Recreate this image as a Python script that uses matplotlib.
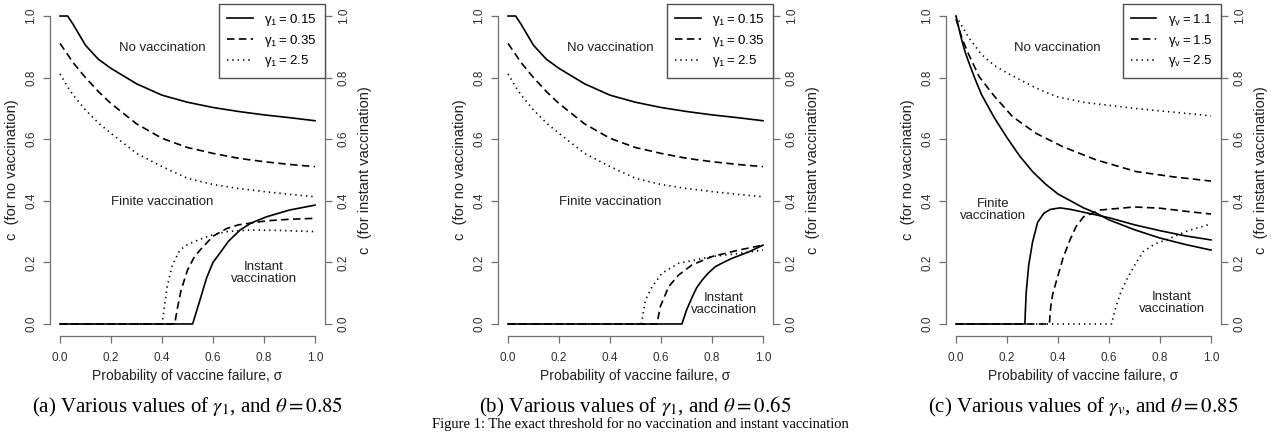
import matplotlib
matplotlib.use("Agg")
import matplotlib.pyplot as plt

plt.rcParams['font.family'] = ['Liberation Sans', 'DejaVu Sans']
plt.rcParams['mathtext.fontset'] = 'custom'
plt.rcParams['mathtext.rm'] = 'Liberation Sans'
plt.rcParams['mathtext.it'] = 'Liberation Sans:italic'

# ---- panels (a) and (b): no-vaccination threshold (does not depend on theta)
nv_sig = [0.0, 0.03, 0.05, 0.1, 0.15, 0.2, 0.3, 0.4, 0.5, 0.6, 0.7, 0.8, 0.9, 1.0]
nv_g015 = [1.0, 1.0, 0.975, 0.905, 0.86, 0.83, 0.78, 0.743, 0.72, 0.703, 0.69, 0.679, 0.67, 0.66]
nv_g035 = [0.911, 0.875, 0.85, 0.80, 0.755, 0.716, 0.65, 0.603, 0.573, 0.554, 0.538, 0.527, 0.518, 0.511]
nv_g25 = [0.812, 0.77, 0.745, 0.695, 0.653, 0.619, 0.554, 0.511, 0.473, 0.453, 0.44, 0.43, 0.421, 0.413]

# ---- panel (a): instant vaccination, theta = 0.85
ia_g015_x = [0, 0.52, 0.535, 0.549, 0.575, 0.6, 0.627, 0.66, 0.706, 0.75, 0.81, 0.9, 1.0]
ia_g015_y = [0, 0, 0.04, 0.078, 0.15, 0.2, 0.23, 0.268, 0.305, 0.328, 0.348, 0.37, 0.386]
ia_g035_x = [0, 0.45, 0.46, 0.475, 0.5, 0.525, 0.549, 0.6, 0.654, 0.7, 0.81, 0.9, 1.0]
ia_g035_y = [0, 0, 0.05, 0.11, 0.175, 0.215, 0.24, 0.285, 0.31, 0.322, 0.335, 0.34, 0.343]
ia_g25_x = [0, 0.40, 0.41, 0.42, 0.44, 0.47, 0.5, 0.549, 0.6, 0.654, 0.745, 0.85, 1.0]
ia_g25_y = [0, 0, 0.06, 0.12, 0.19, 0.24, 0.258, 0.275, 0.29, 0.30, 0.305, 0.304, 0.30]

# ---- panel (b): instant vaccination, theta = 0.65
ib_g015_x = [0, 0.682, 0.70, 0.722, 0.74, 0.761, 0.785, 0.813, 0.845, 0.878, 0.944, 1.0]
ib_g015_y = [0, 0, 0.045, 0.087, 0.118, 0.142, 0.165, 0.186, 0.20, 0.213, 0.234, 0.256]
ib_g035_x = [0, 0.584, 0.597, 0.63, 0.669, 0.722, 0.8, 0.905, 1.0]
ib_g035_y = [0, 0, 0.056, 0.121, 0.159, 0.192, 0.219, 0.24, 0.256]
ib_g25_x = [0, 0.523, 0.539, 0.565, 0.604, 0.669, 0.8, 0.905, 1.0]
ib_g25_y = [0, 0, 0.078, 0.121, 0.165, 0.197, 0.219, 0.229, 0.24]

# ---- panel (c): various gamma_v, theta = 0.85
nc_g11_x = [0, 0.01, 0.02, 0.035, 0.05, 0.075, 0.1, 0.15, 0.2, 0.25, 0.3, 0.35, 0.4, 0.5, 0.55, 0.6, 0.7, 0.8, 0.9, 1.0]
nc_g11_y = [1.0, 0.965, 0.93, 0.885, 0.85, 0.795, 0.745, 0.67, 0.605, 0.545, 0.495, 0.455, 0.422, 0.377, 0.36, 0.338, 0.306, 0.279, 0.258, 0.24]
nc_g15_x = [0, 0.026, 0.05, 0.091, 0.15, 0.222, 0.314, 0.418, 0.549, 0.706, 0.85, 1.0]
nc_g15_y = [0.99, 0.922, 0.875, 0.803, 0.74, 0.673, 0.619, 0.576, 0.533, 0.495, 0.478, 0.464]
nc_g25_x = [0, 0.05, 0.1, 0.15, 0.2, 0.3, 0.35, 0.4, 0.5, 0.6, 0.7, 0.8, 0.9, 1.0]
nc_g25_y = [1.0, 0.93, 0.875, 0.84, 0.815, 0.772, 0.753, 0.737, 0.72, 0.71, 0.70, 0.692, 0.684, 0.676]

ic_g11_x = [0, 0.27, 0.275, 0.285, 0.30, 0.32, 0.345, 0.37, 0.408, 0.45, 0.5, 0.6, 0.7, 0.8, 0.9, 1.0]
ic_g11_y = [0, 0, 0.10, 0.19, 0.265, 0.33, 0.36, 0.372, 0.377, 0.372, 0.363, 0.345, 0.322, 0.303, 0.286, 0.273]
ic_g15_x = [0, 0.366, 0.372, 0.38, 0.395, 0.42, 0.447, 0.47, 0.5, 0.565, 0.7, 0.8, 0.9, 1.0]
ic_g15_y = [0, 0, 0.06, 0.10, 0.143, 0.215, 0.273, 0.315, 0.348, 0.37, 0.38, 0.376, 0.366, 0.357]
ic_g25_x = [0, 0.61, 0.625, 0.645, 0.67, 0.70, 0.734, 0.78, 0.83, 0.9, 1.0]
ic_g25_y = [0, 0, 0.05, 0.10, 0.145, 0.19, 0.235, 0.26, 0.275, 0.30, 0.325]

legend_a = ['γ$_\\mathregular{1}$\u2009=\u20090.15', 'γ$_\\mathregular{1}$\u2009=\u20090.35', 'γ$_\\mathregular{1}$\u2009=\u20092.5']
legend_c = ['γ$_\\mathregular{v}$\u2009=\u20091.1', 'γ$_\\mathregular{v}$\u2009=\u20091.5', 'γ$_\\mathregular{v}$\u2009=\u20092.5']
captions = [r'(a) Various values of $\gamma_1$, and $\theta = 0.85$',
            r'(b) Various values of $\gamma_1$, and $\theta = 0.65$',
            r'(c) Various values of $\gamma_v$, and $\theta = 0.85$']
ticks = [0.0, 0.2, 0.4, 0.6, 0.8, 1.0]

styles = [dict(ls='-'), dict(ls=(0, (4.5, 2.6))), dict(ls=(0, (0.8, 2.4)))]

panels = [
    dict(nov=[(nv_sig, nv_g015), (nv_sig, nv_g035), (nv_sig, nv_g25)],
         inst=[(ia_g015_x, ia_g015_y), (ia_g035_x, ia_g035_y), (ia_g25_x, ia_g25_y)],
         labels=legend_a,
         notes=[('No vaccination', 0.40, 0.896), ('Finite vaccination', 0.40, 0.396),
                ('Instant\nvaccination', 0.80, 0.165)]),
    dict(nov=[(nv_sig, nv_g015), (nv_sig, nv_g035), (nv_sig, nv_g25)],
         inst=[(ib_g015_x, ib_g015_y), (ib_g035_x, ib_g035_y), (ib_g25_x, ib_g25_y)],
         labels=legend_a,
         notes=[('No vaccination', 0.40, 0.896), ('Finite vaccination', 0.40, 0.396),
                ('Instant\nvaccination', 0.847, 0.065)]),
    dict(nov=[(nc_g11_x, nc_g11_y), (nc_g15_x, nc_g15_y), (nc_g25_x, nc_g25_y)],
         inst=[(ic_g11_x, ic_g11_y), (ic_g15_x, ic_g15_y), (ic_g25_x, ic_g25_y)],
         labels=legend_c,
         notes=[('No vaccination', 0.396, 0.896), ('Finite\nvaccination', 0.145, 0.37),
                ('Instant\nvaccination', 0.847, 0.068)]),
]

axis_col = '#707070'
text_col = '#303030'

fig = plt.figure(figsize=(12.8, 4.32), dpi=100)
W, H = 1280.0, 432.0
lefts = [49.8, 497.8, 945.8]

for i, p in enumerate(panels):
    ax = fig.add_axes([lefts[i] / W, 1 - 336.3 / H, 275.4 / W, 332.6 / H])
    ax.set_xlim(-0.04, 1.04)
    ax.set_ylim(-0.04, 1.04)
    handles = []
    for (x, y), st in zip(p['nov'], styles):
        h, = ax.plot(x, y, color='black', lw=1.2, **st)
        handles.append(h)
    for (x, y), st in zip(p['inst'], styles):
        ax.plot(x, y, color='black', lw=1.2, **st)

    ax.spines['top'].set_visible(False)
    for s in ['left', 'right', 'bottom']:
        ax.spines[s].set_color(axis_col)
        ax.spines[s].set_linewidth(0.9)
        ax.spines[s].set_bounds(0, 1)

    ax.set_xticks(ticks)
    ax.set_yticks(ticks)
    ax.set_xticklabels(['%.1f' % t for t in ticks])
    ax.set_yticklabels(['%.1f' % t for t in ticks], rotation=90, va='center')
    ax.tick_params(axis='both', direction='out', length=5, width=0.9, color=axis_col,
                   labelcolor=text_col, labelsize=8.5)
    ax.tick_params(axis='x', pad=6)
    ax.tick_params(axis='y', pad=4, right=True, labelright=True, labelrotation=90)

    ax.text(0.5, -0.098, 'Probability of vaccine failure, σ', transform=ax.transAxes,
            ha='center', va='top', fontsize=10, color='#202020')
    ax.text(-0.137, 0.5, 'c  (for no vaccination)', transform=ax.transAxes, rotation=90,
            ha='center', va='center', fontsize=10.5, color='#202020')
    ax.text(1.145, 0.5, 'c  (for instant vaccination)', transform=ax.transAxes, rotation=90,
            ha='center', va='center', fontsize=10.5, color='#202020')

    for txt, tx, ty in p['notes']:
        ax.text(tx, ty, txt, ha='center', va='center', fontsize=9.5, color='#202020',
                linespacing=0.95)

    leg = ax.legend(handles, p['labels'], loc='upper right', bbox_to_anchor=(1.0, 1.0),
                    borderaxespad=0, fancybox=False, framealpha=1, edgecolor='#505050',
                    fontsize=9.5, handlelength=1.9, handletextpad=0.9, labelspacing=0.36,
                    borderpad=0.62)
    leg.get_frame().set_linewidth(1.0)

    fig.text((lefts[i] + 137.7) / W, 1 - 407 / H, captions[i], ha='center', va='center',
             fontsize=15, family='Liberation Serif', math_fontfamily='stix')

fig.text(0.5, 1 / H, 'Figure 1: The exact threshold for no vaccination and instant vaccination',
         ha='center', va='bottom', fontsize=10.5, family='Liberation Serif')

fig.savefig('out.png', dpi=100)
